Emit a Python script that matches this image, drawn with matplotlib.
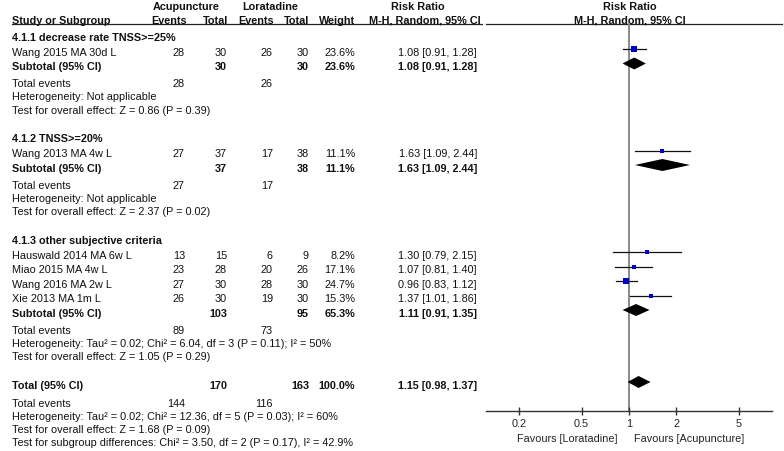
import matplotlib
matplotlib.use("Agg")
import matplotlib.pyplot as plt
import numpy as np

plt.rcParams['font.family'] = ['Liberation Sans', 'DejaVu Sans']

# ---------------- data ----------------
studies = ["Wang 2015 MA 30d L", "Wang 2013 MA 4w L", "Hauswald 2014 MA 6w L",
           "Miao 2015 MA 4w L", "Wang 2016 MA 2w L", "Xie 2013 MA 1m L"]
study_group = [0, 1, 2, 2, 2, 2]
acu_events = [28, 27, 13, 23, 27, 26]
acu_total = [30, 37, 15, 28, 30, 30]
lor_events = [26, 17, 6, 20, 28, 19]
lor_total = [30, 38, 9, 26, 30, 30]
weights = [23.6, 11.1, 8.2, 17.1, 24.7, 15.3]
rr = [1.08, 1.63, 1.30, 1.07, 0.96, 1.37]
rr_lo = [0.91, 1.09, 0.79, 0.81, 0.83, 1.01]
rr_hi = [1.28, 2.44, 2.15, 1.40, 1.12, 1.86]

groups = ["4.1.1 decrease rate TNSS>=25%", "4.1.2 TNSS>=20%", "4.1.3 other subjective criteria"]
sub_acu_total = [30, 37, 103]
sub_lor_total = [30, 38, 95]
sub_acu_events = [28, 27, 89]
sub_lor_events = [26, 17, 73]
sub_weight = [23.6, 11.1, 65.3]
sub_rr = [1.08, 1.63, 1.11]
sub_lo = [0.91, 1.09, 0.91]
sub_hi = [1.28, 2.44, 1.35]
sub_het = ["Heterogeneity: Not applicable",
           "Heterogeneity: Not applicable",
           "Heterogeneity: Tau\u00b2 = 0.02; Chi\u00b2 = 6.04, df = 3 (P = 0.11); I\u00b2 = 50%"]
sub_test = ["Test for overall effect: Z = 0.86 (P = 0.39)",
            "Test for overall effect: Z = 2.37 (P = 0.02)",
            "Test for overall effect: Z = 1.05 (P = 0.29)"]

tot_acu_total, tot_lor_total = 170, 163
tot_acu_events, tot_lor_events = 144, 116
tot_weight = 100.0
tot_rr, tot_lo, tot_hi = 1.15, 0.98, 1.37
tot_het = "Heterogeneity: Tau\u00b2 = 0.02; Chi\u00b2 = 12.36, df = 5 (P = 0.03); I\u00b2 = 60%"
tot_test = "Test for overall effect: Z = 1.68 (P = 0.09)"
tot_sub = "Test for subgroup differences: Chi\u00b2 = 3.50, df = 2 (P = 0.17), I\u00b2 = 42.9%"

xticks = [0.2, 0.5, 1, 2, 5]
xtick_labels = ["0.2", "0.5", "1", "2", "5"]
favours_left = "Favours [Loratadine]"
favours_right = "Favours [Acupuncture]"

# ---------------- layout ----------------
W, H = 784, 452
FS = 7.85
TXT = '#111111'
fig = plt.figure(figsize=(W / 100, H / 100), dpi=100)
ax = fig.add_axes([0, 0, 1, 1])
ax.set_xlim(0, W)
ax.set_ylim(H, 0)
ax.axis('off')

BASE = 3.9  # cap-centre to baseline offset (px)


def put(x, y, s, ha='left', bold=False, color=TXT, size=FS):
    ax.text(x, y + BASE, s, ha=ha, va='baseline', fontsize=size,
            fontweight='bold' if bold else 'normal', color=color)


X_NAME = 12
X_AEV, X_ATOT, X_LEV, X_LTOT, X_W, X_RR = 185, 227, 273, 309, 355, 477

# header
put(186, 6.5, "Acupuncture", ha='center', bold=True)
put(270, 6.5, "Loratadine", ha='center', bold=True)
put(418, 6.5, "Risk Ratio", ha='center', bold=True)
put(630, 6.5, "Risk Ratio", ha='center', bold=True)
put(X_NAME, 20, "Study or Subgroup", bold=True)
put(187, 20, "Events", ha='right', bold=True)
put(228, 20, "Total", ha='right', bold=True)
put(274, 20, "Events", ha='right', bold=True)
put(309, 20, "Total", ha='right', bold=True)
put(355, 20, "Weight", ha='right', bold=True)
put(481, 20, "M-H, Random, 95% CI", ha='right', bold=True)
put(630, 20, "M-H, Random, 95% CI", ha='center', bold=True)
LINE_Y = 24.5
ax.plot([12, 482], [LINE_Y, LINE_Y], color='#222222', lw=0.9)
ax.plot([486, 782], [LINE_Y, LINE_Y], color='#222222', lw=0.9)

# forest axes
PX_DEC = 157.4
X_ONE = 629
AX_L, AX_R = 486, 772
AXIS_Y = 412.3
fx = fig.add_axes([AX_L / W, 0, (AX_R - AX_L) / W, 1])
fx.set_xscale('log')
fx.set_xlim(10 ** ((AX_L - X_ONE) / PX_DEC), 10 ** ((AX_R - X_ONE) / PX_DEC))
fx.set_ylim(H, 0)
fx.patch.set_visible(False)
for s in ['top', 'left', 'right']:
    fx.spines[s].set_visible(False)
fx.spines['bottom'].set_position(('data', AXIS_Y))
fx.spines['bottom'].set_color('#333333')
fx.spines['bottom'].set_linewidth(1.0)
fx.yaxis.set_visible(False)
fx.set_xticks(xticks)
fx.set_xticklabels(xtick_labels)
fx.xaxis.set_minor_locator(matplotlib.ticker.NullLocator())
fx.tick_params(axis='x', direction='inout', length=6, width=1, color='#333333',
               pad=2, labelsize=FS, labelcolor='#222222')

fx.plot([1, 1], [LINE_Y, AXIS_Y], color='#8a8a8a', lw=1.4, zorder=1)

SQ_K = 1.2      # square side (px) per sqrt(weight)
DH = 6.0        # diamond half height (px)
MK_OFF = -2.0   # markers sit slightly above the text centre


def square(r, lo, hi, w, y):
    y = y + MK_OFF
    fx.plot([lo, hi], [y, y], color='#111111', lw=0.9, zorder=2)
    side = SQ_K * np.sqrt(w) * 0.72
    fx.plot([r], [y], marker='s', ms=side, mew=0, color='#0000cc', zorder=3)


def diamond(r, lo, hi, y):
    y = y + MK_OFF
    fx.fill([lo, r, hi, r], [y, y - DH, y, y + DH], color='black', lw=0, zorder=3)


# rows
y = 37.0
for g, gname in enumerate(groups):
    put(X_NAME, y, gname, bold=True)
    y += 15
    for i, name in enumerate(studies):
        if study_group[i] != g:
            continue
        put(X_NAME, y, name)
        put(X_AEV, y, str(acu_events[i]), ha='right')
        put(X_ATOT, y, str(acu_total[i]), ha='right')
        put(X_LEV, y, str(lor_events[i]), ha='right')
        put(X_LTOT, y, str(lor_total[i]), ha='right')
        put(X_W, y, f"{weights[i]:.1f}%", ha='right')
        put(X_RR, y, f"{rr[i]:.2f} [{rr_lo[i]:.2f}, {rr_hi[i]:.2f}]", ha='right')
        square(rr[i], rr_lo[i], rr_hi[i], weights[i], y)
        y += 14.5
    put(X_NAME, y, "Subtotal (95% CI)", bold=True)
    put(X_ATOT, y, str(sub_acu_total[g]), ha='right', bold=True)
    put(X_LTOT, y, str(sub_lor_total[g]), ha='right', bold=True)
    put(X_W, y, f"{sub_weight[g]:.1f}%", ha='right', bold=True)
    put(X_RR, y, f"{sub_rr[g]:.2f} [{sub_lo[g]:.2f}, {sub_hi[g]:.2f}]", ha='right', bold=True)
    diamond(sub_rr[g], sub_lo[g], sub_hi[g], y)
    put(X_NAME, y + 17, "Total events")
    put(X_AEV, y + 17, str(sub_acu_events[g]), ha='right')
    put(X_LEV, y + 17, str(sub_lor_events[g]), ha='right')
    put(X_NAME, y + 30, sub_het[g])
    put(X_NAME, y + 43.5, sub_test[g])
    y += 43.5 + 28.5

# overall
put(X_NAME, y, "Total (95% CI)", bold=True)
put(X_ATOT, y, str(tot_acu_total), ha='right', bold=True)
put(X_LTOT, y, str(tot_lor_total), ha='right', bold=True)
put(X_W, y, f"{tot_weight:.1f}%", ha='right', bold=True)
put(X_RR, y, f"{tot_rr:.2f} [{tot_lo:.2f}, {tot_hi:.2f}]", ha='right', bold=True)
diamond(tot_rr, tot_lo, tot_hi, y)
put(X_NAME, y + 18.5, "Total events")
put(X_AEV, y + 18.5, str(tot_acu_events), ha='right')
put(X_LEV, y + 18.5, str(tot_lor_events), ha='right')
put(X_NAME, y + 31.5, tot_het)
put(X_NAME, y + 44.5, tot_test)
put(X_NAME, y + 57.5, tot_sub)

# favours labels
put(618, 438.5, favours_left, ha='right', color='#222222')
put(634, 438.5, favours_right, ha='left', color='#222222')

fig.savefig("out.png", dpi=100)
